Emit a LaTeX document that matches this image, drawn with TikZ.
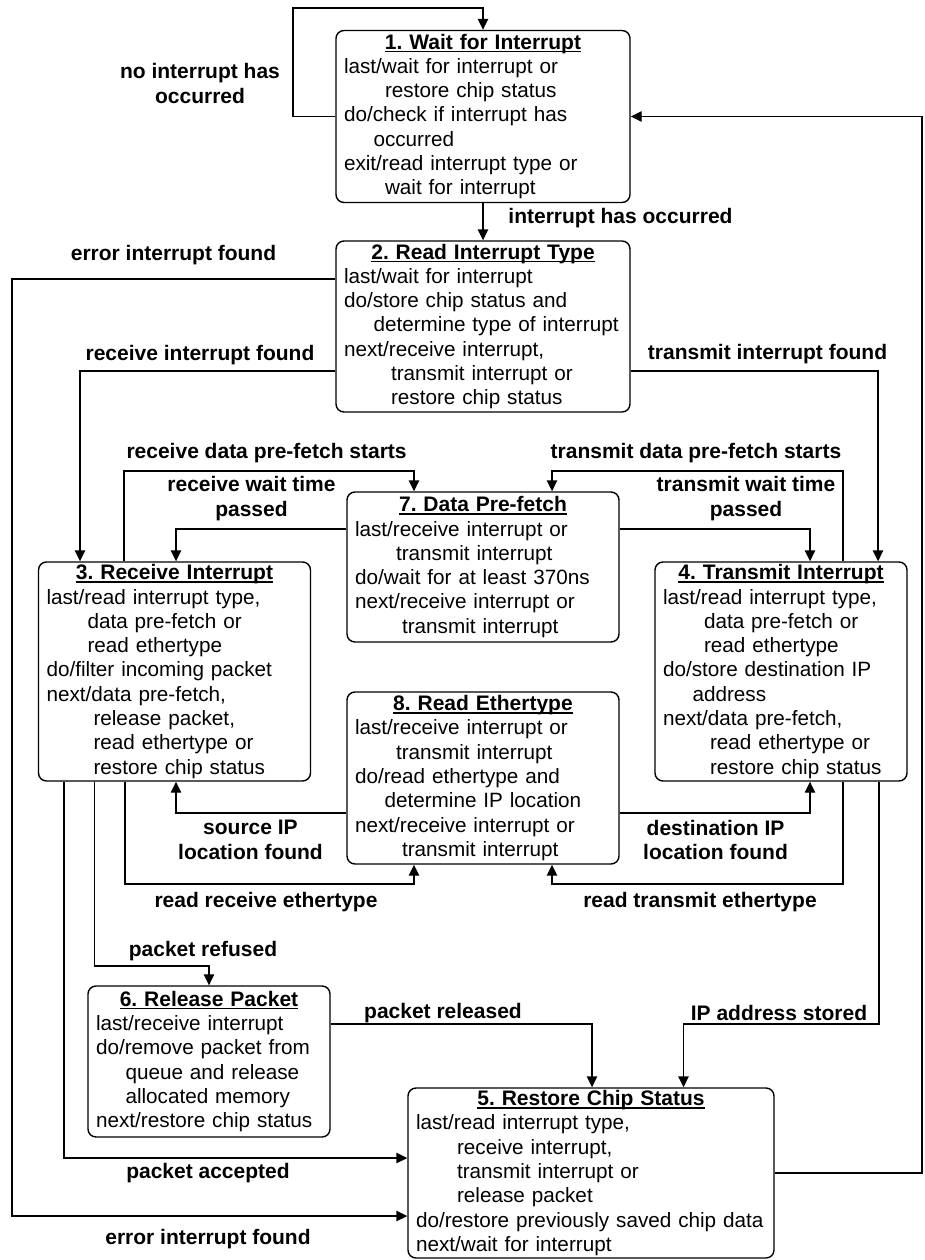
\documentclass[tikz,border=0pt]{standalone}
\usepackage{fontspec}
\setmainfont{Liberation Sans}
\usetikzlibrary{arrows.meta}
\newcommand\ttl[1]{\makebox[\hsize]{\setbox0\hbox{\fontsize{21pt}{24.3pt}\selectfont\bfseries #1}\rlap{\rule[-3pt]{\wd0}{1.3pt}}\box0}}
\newcommand\Ln[2][0pt]{\mbox{\hspace*{#1}#2}}
\newcommand\bxf{\fontsize{20.7pt}{24.3pt}\selectfont\frenchspacing}
\newcommand\lbf{\fontsize{21pt}{24.3pt}\selectfont\frenchspacing\bfseries}
\tikzset{
  box/.style={draw, rounded corners=8pt, line width=1.4pt, align=left, inner xsep=8pt, inner ysep=0pt, font=\bxf},
  lbl/.style={font=\lbf, align=center, inner sep=0pt},
  conn/.style={line width=1.4pt, -{Triangle[length=11pt,width=10.5pt]}},
}
\begin{document}
\begin{tikzpicture}[x=1pt,y=-1pt]
\useasboundingbox (0,0) rectangle (924,1260);

% boxes
\node[box, minimum width=294pt, text width=278pt, minimum height=172pt] (b1) at (483,116.5)
 {\ttl{1. Wait for Interrupt}\\ \Ln{last/wait for interrupt or}\\ \Ln[41pt]{restore chip status}\\ \Ln{do/check if interrupt has}\\ \Ln[29.5pt]{occurred}\\ \Ln{exit/read interrupt type or}\\ \Ln[41pt]{wait for interrupt}};
\node[box, minimum width=294pt, text width=278pt, minimum height=171pt] (b2) at (483,326.5)
 {\ttl{2. Read Interrupt Type}\\ \Ln{last/wait for interrupt}\\ \Ln{do/store chip status and}\\ \Ln[29.5pt]{determine type of interrupt}\\ \Ln{next/receive interrupt,}\\ \Ln[47pt]{transmit interrupt or}\\ \Ln[47pt]{restore chip status}};
\node[box, minimum width=272pt, text width=256pt, minimum height=219pt] (b3) at (174.5,671.5)
 {\ttl{3. Receive Interrupt}\\ \Ln{last/read interrupt type,}\\ \Ln[41pt]{data pre-fetch or}\\ \Ln[41pt]{read ethertype}\\ \Ln{do/filter incoming packet}\\ \Ln{next/data pre-fetch,}\\ \Ln[47pt]{release packet,}\\ \Ln[47pt]{read ethertype or}\\ \Ln[47pt]{restore chip status}};
\node[box, minimum width=252pt, text width=236pt, minimum height=219pt] (b4) at (781,671.5)
 {\ttl{4. Transmit Interrupt}\\ \Ln{last/read interrupt type,}\\ \Ln[41pt]{data pre-fetch or}\\ \Ln[41pt]{read ethertype}\\ \Ln{do/store destination IP}\\ \Ln[29.5pt]{address}\\ \Ln{next/data pre-fetch,}\\ \Ln[47pt]{read ethertype or}\\ \Ln[47pt]{restore chip status}};
\node[box, minimum width=272pt, text width=256pt, minimum height=150pt] (b7) at (483,567)
 {\ttl{7. Data Pre-fetch}\\ \Ln{last/receive interrupt or}\\ \Ln[41pt]{transmit interrupt}\\ \Ln{do/wait for at least 370ns}\\ \Ln{next/receive interrupt or}\\ \Ln[47pt]{transmit interrupt}};
\node[box, minimum width=272pt, text width=256pt, minimum height=172pt] (b8) at (483,778)
 {\ttl{8. Read Ethertype}\\ \Ln{last/receive interrupt or}\\ \Ln[41pt]{transmit interrupt}\\ \Ln{do/read ethertype and}\\ \Ln[29.5pt]{determine IP location}\\ \Ln{next/receive interrupt or}\\ \Ln[47pt]{transmit interrupt}};
\node[box, minimum width=242pt, text width=226pt, minimum height=151pt] (b6) at (209,1061.5)
 {\ttl{6. Release Packet}\\ \Ln{last/receive interrupt}\\ \Ln{do/remove packet from}\\ \Ln[29.5pt]{queue and release}\\ \Ln[29.5pt]{allocated memory}\\ \Ln{next/restore chip status}};
\node[box, minimum width=366pt, text width=350pt, minimum height=170pt] (b5) at (591,1173)
 {\ttl{5. Restore Chip Status}\\ \Ln{last/read interrupt type,}\\ \Ln[41pt]{receive interrupt,}\\ \Ln[41pt]{transmit interrupt or}\\ \Ln[41pt]{release packet}\\ \Ln{do/restore previously saved chip data}\\ \Ln{next/wait for interrupt}};

% waypoints
\coordinate (nl) at (293,8);
\coordinate (r1) at (922,1173);
\coordinate (r2) at (922,116.5);
\coordinate (e1) at (12,279);
\coordinate (e2) at (12,1216);
\coordinate (ri) at (80,371);
\coordinate (ti) at (878,371);
\coordinate (p1) at (124,471);
\coordinate (p2) at (414,471);
\coordinate (p3) at (843,471);
\coordinate (p4) at (552,471);
\coordinate (w1) at (176,529);
\coordinate (w2) at (810,529);
\coordinate (s1) at (176,813);
\coordinate (s2) at (810,813);
\coordinate (e3) at (125,884);
\coordinate (e4) at (414,884);
\coordinate (e5) at (843,884);
\coordinate (e6) at (552,884);
\coordinate (f1) at (94.5,966);
\coordinate (f2) at (209,966);
\coordinate (a1) at (64,1158);
\coordinate (g1) at (592,1024);
\coordinate (h1) at (879,1024);
\coordinate (h2) at (683.5,1024);

% connectors
\draw[conn] (b1.west) -| (nl) -| (b1.north);
\draw[conn] (b5.east) -- (r1) -- (r2) -- (b1.east);
\draw[conn] (b1.south) -- (b2.north);
\draw[conn] (b2.west |- e1) -- (e1) -- (e2) -- (b5.west |- e2);
\draw[conn] (b2.west |- ri) -- (ri) -- (ri |- b3.north);
\draw[conn] (b2.east |- ti) -- (ti) -- (ti |- b4.north);
\draw[conn] (p1 |- b3.north) -- (p1) -- (p2) -- (p2 |- b7.north);
\draw[conn] (p3 |- b4.north) -- (p3) -- (p4) -- (p4 |- b7.north);
\draw[conn] (b7.west |- w1) -- (w1) -- (w1 |- b3.north);
\draw[conn] (b7.east |- w2) -- (w2) -- (w2 |- b4.north);
\draw[conn] (b8.west |- s1) -- (s1) -- (s1 |- b3.south);
\draw[conn] (b8.east |- s2) -- (s2) -- (s2 |- b4.south);
\draw[conn] (e3 |- b3.south) -- (e3) -- (e4) -- (e4 |- b8.south);
\draw[conn] (e5 |- b4.south) -- (e5) -- (e6) -- (e6 |- b8.south);
\draw[conn] (f1 |- b3.south) -- (f1) -- (f2) -- (f2 |- b6.north);
\draw[conn] (a1 |- b3.south) -- (a1) -- (b5.west |- a1);
\draw[conn] (b6.east |- g1) -- (g1) -- (g1 |- b5.north);
\draw[conn] (h1 |- b4.south) -- (h1) -- (h2) -- (h2 |- b5.north);

% labels
\node[lbl] (l1) at (200,83.5) {no interrupt has\\occurred};
\node[lbl] (l2) at (620.5,217.7) {interrupt has occurred};
\node[lbl] (l3) at (173.5,255) {error interrupt found};
\node[lbl] (l4) at (200,355) {receive interrupt found};
\node[lbl] (l5) at (767.5,354) {transmit interrupt found};
\node[lbl] (l6) at (266.6,453) {receive data pre-fetch starts};
\node[lbl] (l7) at (696,453) {transmit data pre-fetch starts};
\node[lbl] (l8) at (251.5,498.7) {receive wait time\\passed};
\node[lbl] (l9) at (746,498.7) {transmit wait time\\passed};
\node[lbl] (l10) at (250.5,840) {source IP\\location found};
\node[lbl] (l11) at (715.5,840) {destination IP\\location found};
\node[lbl] (l12) at (266,902) {read receive ethertype};
\node[lbl] (l13) at (700,902) {read transmit ethertype};
\node[lbl] (l14) at (203,950.7) {packet refused};
\node[lbl] (l15) at (443,1013) {packet released};
\node[lbl] (l16) at (779,1013) {IP address stored};
\node[lbl] (l17) at (208,1173) {packet accepted};
\node[lbl] (l18) at (208,1239) {error interrupt found};
\end{tikzpicture}
\end{document}
